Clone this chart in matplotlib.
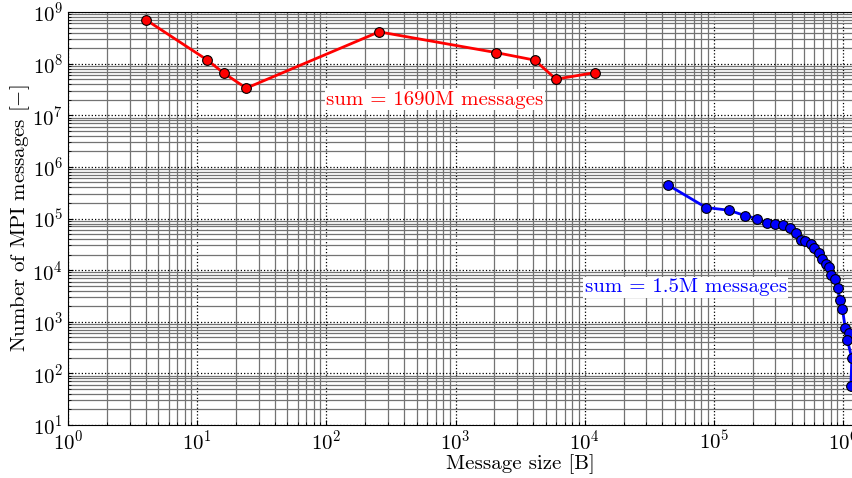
import numpy as np
import matplotlib
matplotlib.use("Agg")
import matplotlib.pyplot as plt

plt.rcParams['mathtext.fontset'] = 'cm'
plt.rcParams['font.family'] = ['cmr10', 'DejaVu Serif']
plt.rcParams['axes.unicode_minus'] = False
plt.rcParams['axes.formatter.use_mathtext'] = True

# message sizes [B] and counts
red_size = [4, 12, 16, 24, 256, 2048, 4096, 6000, 12000]
red_count = [7.1e8, 1.17e8, 6.6e7, 3.35e7, 4.13e8, 1.64e8, 1.17e8, 5.0e7, 6.7e7]

blue_size = [4.4e4, 8.7e4, 1.3e5, 1.74e5, 2.15e5, 2.59e5, 3.0e5, 3.44e5, 3.9e5,
             4.31e5, 4.71e5, 5.12e5, 5.6e5, 6.0e5, 6.46e5, 6.9e5, 7.36e5, 7.77e5,
             8.1e5, 8.65e5, 9.1e5, 9.5e5, 9.9e5, 1.04e6, 1.12e6, 1.08e6, 1.17e6, 1.15e6]
blue_count = [4.48e5, 1.63e5, 1.45e5, 1.14e5, 9.96e4, 8.2e4, 8.0e4, 7.6e4, 6.5e4,
              5.33e4, 3.9e4, 3.63e4, 3.27e4, 2.69e4, 2.18e4, 1.67e4, 1.32e4, 1.15e4,
              7.95e3, 6.76e3, 4.46e3, 2.64e3, 1.74e3, 769, 598, 444, 196, 58]

red_note = 'sum = 1690M messages'
blue_note = 'sum = 1.5M messages'

fig = plt.figure(figsize=(8.53, 4.78), dpi=100)
# the original is cut off on the right, so the axes run past the figure edge
ax = fig.add_axes([68/853, 1 - 425/478, (972.2 - 68)/853, 413/478])

ax.plot(red_size, red_count, '-o', color='red', lw=2, ms=7,
        mfc='red', mec='black', mew=0.8, zorder=3)
ax.plot(blue_size, blue_count, '-o', color='blue', lw=2, ms=7,
        mfc='blue', mec='black', mew=0.8, zorder=3)

ax.set_xscale('log')
ax.set_yscale('log')
ax.set_xlim(1, 1e7)
ax.set_ylim(10, 1e9)

ax.grid(True, which='minor', color='0.45', lw=0.9, ls='-')
ax.grid(True, which='major', color='black', lw=0.9, ls=':')
ax.set_axisbelow(True)
ax.tick_params(which='both', direction='in', labelsize=15)

ax.set_xlabel('Message size [B]', fontsize=15, labelpad=0)
ax.set_ylabel('Number of MPI messages [$-$]', fontsize=15, labelpad=0)

box = dict(facecolor='white', edgecolor='none', pad=1)
ax.text(100, 2e7, red_note, color='red', fontsize=15,
        va='center', ha='left', bbox=box, zorder=4)
ax.text(1e4, 4.7e3, blue_note, color='blue', fontsize=15,
        va='center', ha='left', bbox=box, zorder=4)

fig.savefig('out.png', dpi=100)
